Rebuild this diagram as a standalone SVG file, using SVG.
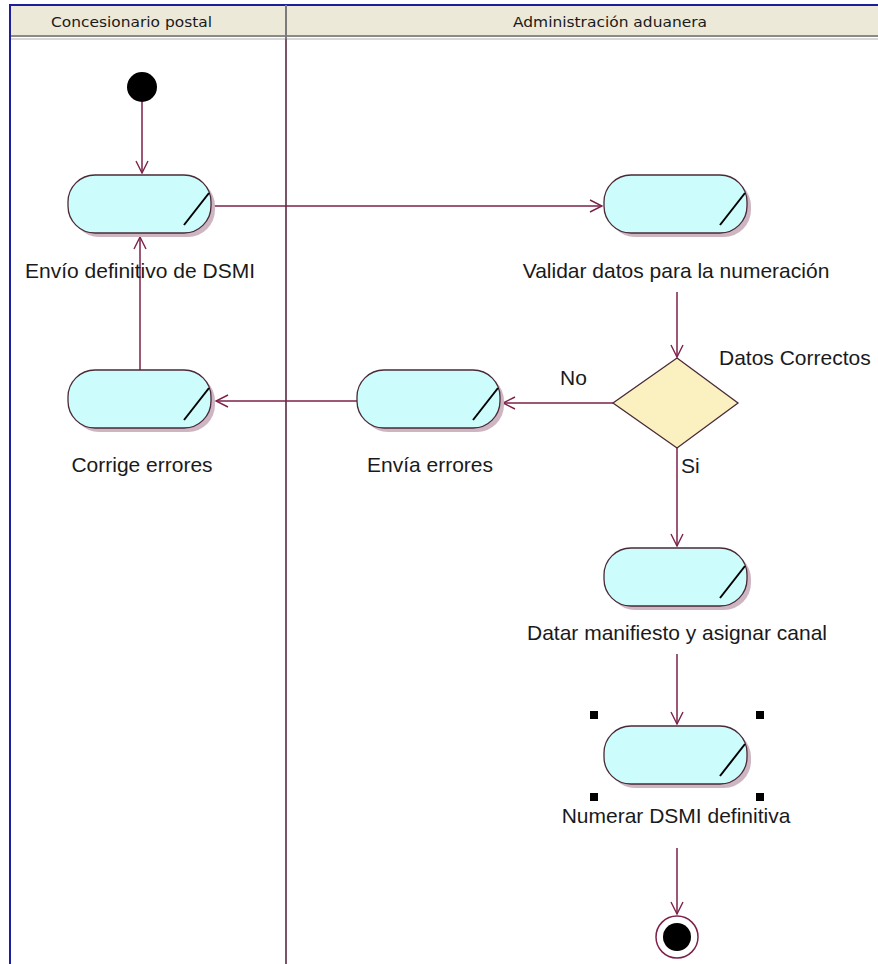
<svg xmlns="http://www.w3.org/2000/svg" width="878" height="964" viewBox="0 0 878 964">
<defs>
<style>
.lbl{font-family:"Liberation Sans",Arial,sans-serif;font-size:21px;fill:#1a1a1a}
.edge{stroke:#7d2149;stroke-width:1.5;fill:none}
.act{fill:#cdfcfc;stroke:#4a2a36;stroke-width:1.3}
.shadow{fill:#cdb6c2}
.slash{stroke:#000;stroke-width:2}
.handle{fill:#000}
</style>
<marker id="arr" viewBox="0 0 14 14" refX="13" refY="7" markerWidth="14" markerHeight="14" markerUnits="userSpaceOnUse" orient="auto">
<path d="M1,1 L13,7 L1,13" fill="none" stroke="#7d2149" stroke-width="1.4"/>
</marker>
<symbol id="actShape" overflow="visible">
<rect class="shadow" x="4" y="4" width="143" height="58" rx="27" ry="27"/>
<rect class="act" x="0" y="0" width="143" height="58" rx="27" ry="27"/>
<line class="slash" x1="116" y1="50" x2="141" y2="18"/>
</symbol>
</defs>
<rect x="0" y="0" width="878" height="964" fill="#ffffff"/>
<!-- frame / swimlanes -->
<g id="swimlanes">
<rect x="9" y="5" width="869" height="31" fill="#ece9d8"/>
<line x1="9" y1="36" x2="878" y2="36" stroke="#8a8a8a" stroke-width="2"/>
<line x1="9" y1="39" x2="878" y2="39" stroke="#b0b0b0" stroke-width="1"/>
<line x1="9" y1="5" x2="878" y2="5" stroke="#1e1e9a" stroke-width="2"/>
<line x1="10" y1="5" x2="10" y2="964" stroke="#1e1e9a" stroke-width="2"/>
<line x1="286" y1="5" x2="286" y2="39" stroke="#7a7a7a" stroke-width="2"/>
<line x1="286" y1="39" x2="286" y2="964" stroke="#7a5566" stroke-width="2"/>
<text x="51" y="27" font-family="DejaVu Sans, Verdana, sans-serif" font-size="14" fill="#1a1a1a" textLength="161" lengthAdjust="spacingAndGlyphs">Concesionario postal</text>
<text x="513" y="27" font-family="DejaVu Sans, Verdana, sans-serif" font-size="14" fill="#1a1a1a" textLength="194" lengthAdjust="spacingAndGlyphs">Administración aduanera</text>
</g>
<!-- connectors -->
<g id="connectors">
<line class="edge" x1="142" y1="102" x2="142" y2="173" marker-end="url(#arr)"/>
<line class="edge" x1="212" y1="206" x2="602" y2="206" marker-end="url(#arr)"/>
<line class="edge" x1="677" y1="292" x2="677" y2="357" marker-end="url(#arr)"/>
<line class="edge" x1="613" y1="403" x2="503" y2="403" marker-end="url(#arr)"/>
<line class="edge" x1="357" y1="401" x2="216" y2="401" marker-end="url(#arr)"/>
<line class="edge" x1="140" y1="370" x2="140" y2="237" marker-end="url(#arr)"/>
<line class="edge" x1="677" y1="448" x2="677" y2="546" marker-end="url(#arr)"/>
<line class="edge" x1="677" y1="654" x2="677" y2="724" marker-end="url(#arr)"/>
<line class="edge" x1="677" y1="848" x2="677" y2="914" marker-end="url(#arr)"/>
</g>
<!-- nodes -->
<g id="start">
<circle cx="142" cy="87" r="15" fill="#000"/>
</g>
<g id="envio-definitivo">
<use href="#actShape" x="68" y="175"/>
<text class="lbl" x="140" y="278" text-anchor="middle">Envío definitivo de DSMI</text>
</g>
<g id="validar-datos">
<use href="#actShape" x="604" y="175"/>
<text class="lbl" x="676" y="278" text-anchor="middle">Validar datos para la numeración</text>
</g>
<g id="decision">
<polygon points="677,358 738,403 677,448 613,403" fill="#fbf0c0" stroke="#4a2a36" stroke-width="1.3"/>
<text class="lbl" x="719" y="365">Datos Correctos</text>
<text class="lbl" x="560" y="385">No</text>
<text class="lbl" x="681" y="473">Si</text>
</g>
<g id="envia-errores">
<use href="#actShape" x="357" y="370"/>
<text class="lbl" x="430" y="472" text-anchor="middle">Envía errores</text>
</g>
<g id="corrige-errores">
<use href="#actShape" x="68" y="370"/>
<text class="lbl" x="142" y="472" text-anchor="middle">Corrige errores</text>
</g>
<g id="datar-manifiesto">
<use href="#actShape" x="604" y="548"/>
<text class="lbl" x="677" y="640" text-anchor="middle">Datar manifiesto y asignar canal</text>
</g>
<g id="numerar-dsmi">
<use href="#actShape" x="604" y="726"/>
<rect class="handle" x="590" y="711" width="8" height="8"/>
<rect class="handle" x="756" y="711" width="8" height="8"/>
<rect class="handle" x="590" y="793" width="8" height="8"/>
<rect class="handle" x="756" y="793" width="8" height="8"/>
<text class="lbl" x="676" y="823" text-anchor="middle">Numerar DSMI definitiva</text>
</g>
<g id="end">
<circle cx="677" cy="937" r="21" fill="#fff" stroke="#7d2149" stroke-width="1.5"/>
<circle cx="677" cy="937" r="14" fill="#000"/>
</g>
</svg>
